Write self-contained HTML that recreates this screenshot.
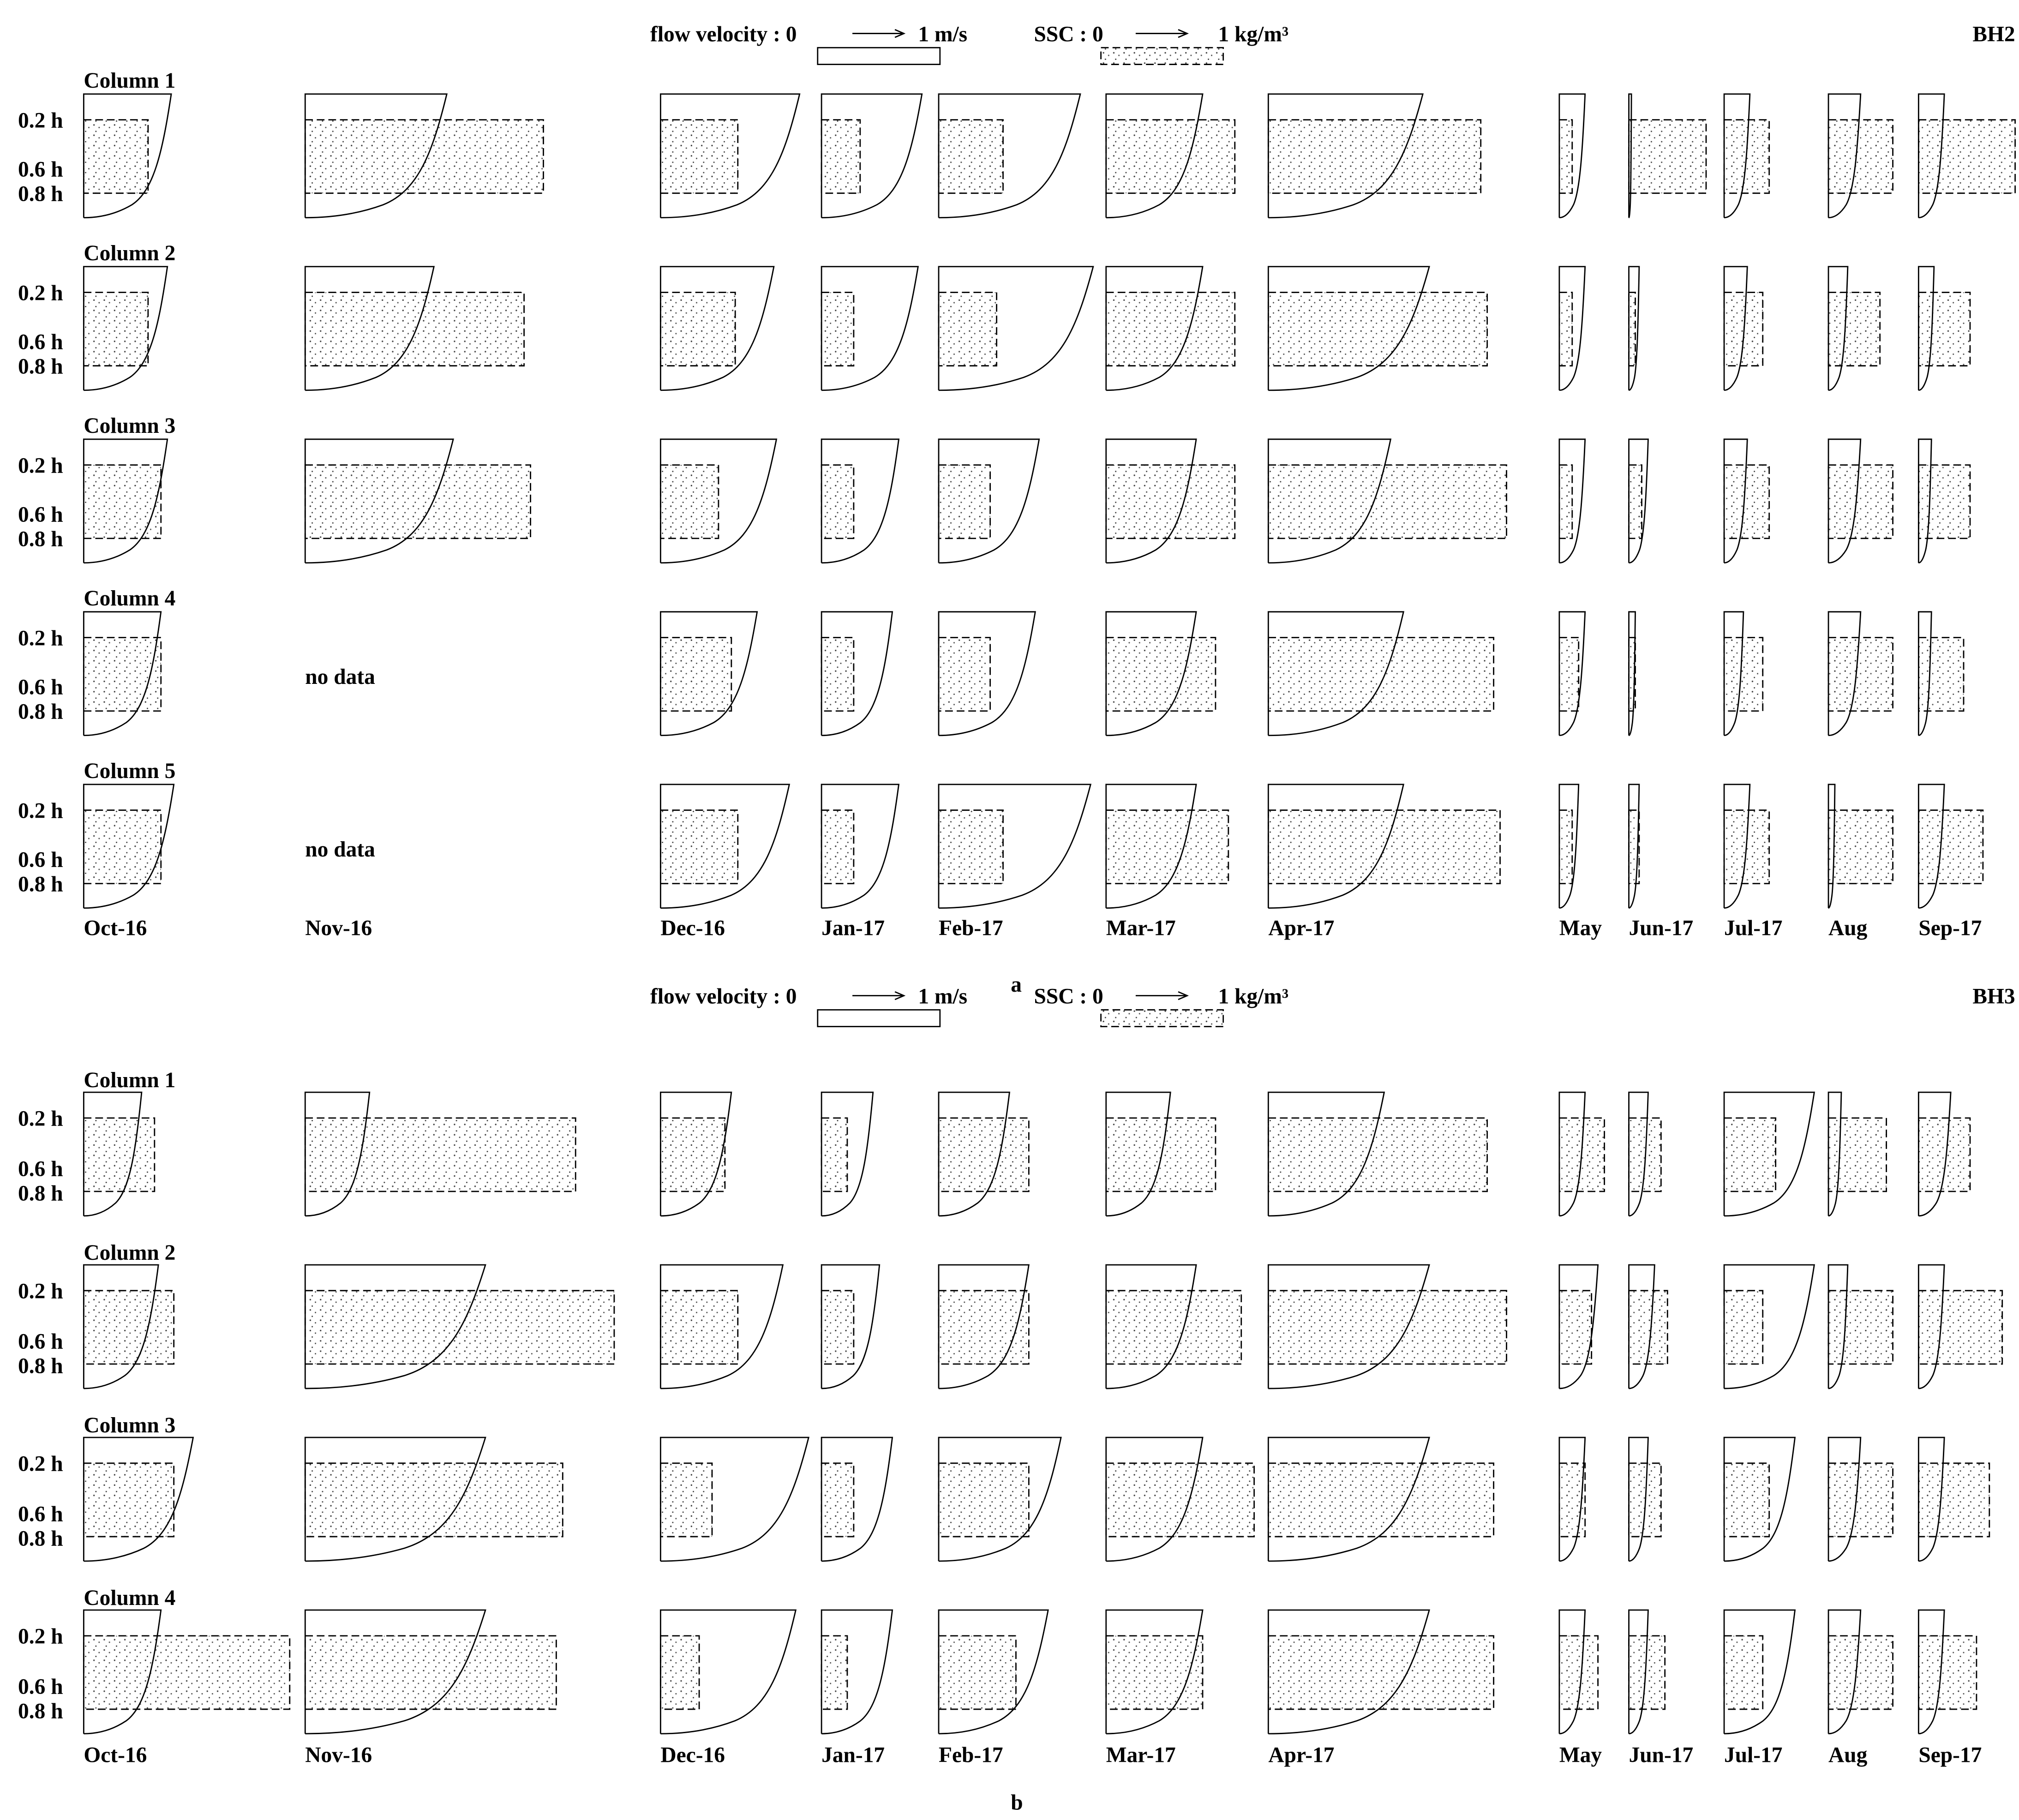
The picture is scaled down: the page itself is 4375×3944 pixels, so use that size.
<!DOCTYPE html>
<html><head><meta charset="utf-8"><style>
html,body{margin:0;padding:0;background:#fff}
svg{display:block}
text{font-family:"Liberation Serif",serif;font-weight:bold;font-size:17px;fill:#000}
</style></head><body>
<svg id="s" xmlns="http://www.w3.org/2000/svg" width="4375" height="3944" viewBox="0 0 1568 1413" preserveAspectRatio="none">
<defs>
<pattern id="st" width="8" height="8" patternUnits="userSpaceOnUse">
<rect width="8" height="8" fill="#fff"/>
<circle cx="1" cy="1" r="0.6" fill="#444"/><circle cx="5" cy="3" r="0.55" fill="#555"/><circle cx="2.5" cy="6" r="0.55" fill="#444"/>
</pattern>
</defs>
<g id="g" fill="none" stroke="#000" stroke-width="1"></g>
<text x="505" y="32">flow velocity : 0</text><text x="713" y="32">1 m/s</text>
<text x="803" y="32">SSC : 0</text><text x="946" y="32">1 kg/m³</text>
<text x="1565" y="32" text-anchor="end">BH2</text>
<text x="65" y="68">Column 1</text><text x="65" y="202">Column 2</text><text x="65" y="336">Column 3</text><text x="65" y="470">Column 4</text><text x="65" y="604">Column 5</text>
<text x="237" y="531">no data</text><text x="237" y="665">no data</text>
<text x="65" y="726">Oct-16</text><text x="237" y="726">Nov-16</text><text x="513" y="726">Dec-16</text><text x="638" y="726">Jan-17</text><text x="729" y="726">Feb-17</text><text x="859" y="726">Mar-17</text><text x="985" y="726">Apr-17</text><text x="1211" y="726">May</text><text x="1265" y="726">Jun-17</text><text x="1339" y="726">Jul-17</text><text x="1420" y="726">Aug</text><text x="1490" y="726">Sep-17</text>
<text x="785" y="770" font-size="21">a</text>
<text x="505" y="779">flow velocity : 0</text><text x="713" y="779">1 m/s</text>
<text x="803" y="779">SSC : 0</text><text x="946" y="779">1 kg/m³</text>
<text x="1565" y="779" text-anchor="end">BH3</text>
<text x="65" y="844">Column 1</text><text x="65" y="978">Column 2</text><text x="65" y="1112">Column 3</text><text x="65" y="1246">Column 4</text>
<text x="65" y="1368">Oct-16</text><text x="237" y="1368">Nov-16</text><text x="513" y="1368">Dec-16</text><text x="638" y="1368">Jan-17</text><text x="729" y="1368">Feb-17</text><text x="859" y="1368">Mar-17</text><text x="985" y="1368">Apr-17</text><text x="1211" y="1368">May</text><text x="1265" y="1368">Jun-17</text><text x="1339" y="1368">Jul-17</text><text x="1420" y="1368">Aug</text><text x="1490" y="1368">Sep-17</text>
<text x="785" y="1405" font-size="21">b</text>
<g>
<text x="14" y="99">0.2 h</text><text x="14" y="137">0.6 h</text><text x="14" y="156">0.8 h</text>
<text x="14" y="233">0.2 h</text><text x="14" y="271">0.6 h</text><text x="14" y="290">0.8 h</text>
<text x="14" y="367">0.2 h</text><text x="14" y="405">0.6 h</text><text x="14" y="424">0.8 h</text>
<text x="14" y="501">0.2 h</text><text x="14" y="539">0.6 h</text><text x="14" y="558">0.8 h</text>
<text x="14" y="635">0.2 h</text><text x="14" y="673">0.6 h</text><text x="14" y="692">0.8 h</text>
<text x="14" y="874">0.2 h</text><text x="14" y="913">0.6 h</text><text x="14" y="932">0.8 h</text>
<text x="14" y="1008">0.2 h</text><text x="14" y="1047">0.6 h</text><text x="14" y="1066">0.8 h</text>
<text x="14" y="1142">0.2 h</text><text x="14" y="1181">0.6 h</text><text x="14" y="1200">0.8 h</text>
<text x="14" y="1276">0.2 h</text><text x="14" y="1315">0.6 h</text><text x="14" y="1334">0.8 h</text>
</g>
</svg>
<script>
var g=document.getElementById('g'),NS='http://www.w3.org/2000/svg';
function el(t,a){var e=document.createElementNS(NS,t);for(var k in a)e.setAttribute(k,a[k]);g.appendChild(e);return e;}
var X=[65,237,513,638,729,859,985,1211,1265,1339,1420,1490];
var A=[
[[68,50],[110,185],[108,60],[78,30],[110,50],[75,100],[120,165],[20,10],[2,60],[20,35],[25,50],[20,75]],
[[65,50],[100,170],[88,58],[75,25],[120,45],[75,100],[125,170],[20,10],[8,5],[18,30],[15,40],[12,40]],
[[65,60],[115,175],[90,45],[60,25],[78,40],[70,100],[95,185],[20,10],[15,10],[18,35],[25,50],[10,40]],
[[60,60],null,[75,55],[55,25],[75,40],[70,85],[105,175],[20,15],[5,5],[15,30],[25,50],[10,35]],
[[70,60],null,[100,60],[60,25],[118,50],[70,95],[105,180],[15,10],[8,8],[20,35],[5,50],[20,50]]];
var B=[
[[45,55],[50,210],[55,50],[40,20],[55,70],[50,85],[90,170],[20,35],[15,25],[70,40],[10,45],[25,40]],
[[58,70],[140,240],[95,60],[45,25],[70,70],[70,105],[125,185],[30,25],[20,30],[70,30],[15,50],[20,65]],
[[85,70],[140,200],[115,40],[55,25],[95,70],[75,115],[125,175],[20,20],[15,25],[55,35],[25,50],[20,55]],
[[60,160],[140,195],[105,30],[55,20],[85,60],[75,75],[125,175],[20,30],[15,28],[55,30],[25,50],[20,45]]];
function row(top,d){
 var y2=top+20,y8=top+77,bot=top+96;
 for(var i=0;i<12;i++){var p=d[i];if(!p)continue;var x=X[i],V=p[0],S=p[1];
  el('rect',{x:x,y:y2,width:S,height:y8-y2,fill:'url(#st)',stroke:'#000','stroke-dasharray':'6,3'});
  el('path',{d:'M'+x+','+bot+'V'+top+'H'+(x+V)+'C'+(x+V*0.9)+','+(top+45)+' '+(x+V*0.8)+','+(top+75)+' '+(x+V*0.55)+','+(top+86)+'C'+(x+V*0.35)+','+(top+94)+' '+(x+V*0.15)+','+bot+' '+x+','+bot});
 }}
for(var r=0;r<5;r++)row(73+134*r,A[r]);
for(var r=0;r<4;r++)row(848+134*r,B[r]);
el('rect',{x:635,y:37,width:95,height:13});el('rect',{x:855,y:37,width:95,height:13,fill:'url(#st)','stroke-dasharray':'6,3'});
el('rect',{x:635,y:784,width:95,height:13});el('rect',{x:855,y:784,width:95,height:13,fill:'url(#st)','stroke-dasharray':'6,3'});
[[662,26],[882,26],[662,773],[882,773]].forEach(function(a){el('path',{d:'M'+a[0]+','+a[1]+'h40m-7,-3l7,3l-7,3'});});
</script>
</body></html>
